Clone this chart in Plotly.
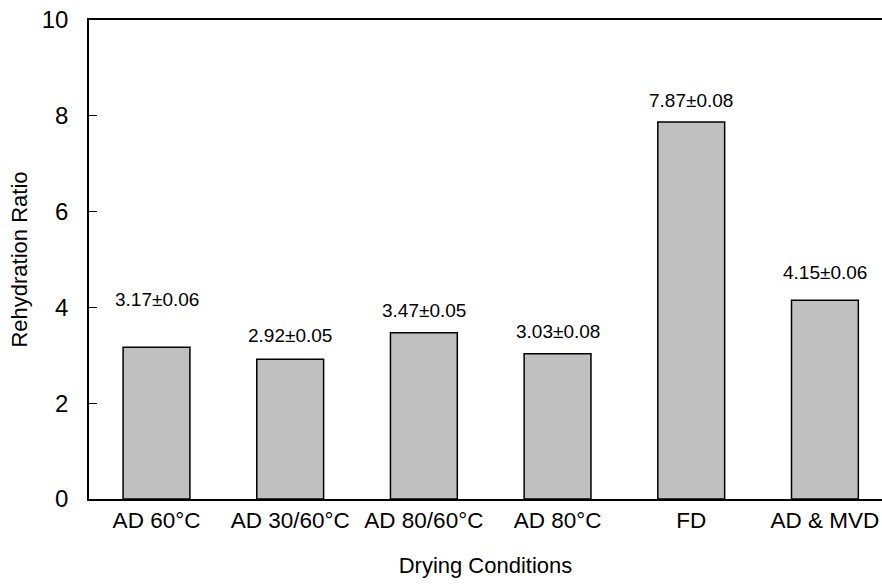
import plotly.graph_objects as go

# Drying treatments and their mean rehydration ratio (± SD)
conditions = ["AD 60°C", "AD 30/60°C", "AD 80/60°C", "AD 80°C", "FD", "AD & MVD"]
ratio_mean = [3.17, 2.92, 3.47, 3.03, 7.87, 4.15]
ratio_sd = [0.06, 0.05, 0.05, 0.08, 0.08, 0.06]
y_ticks = [0, 2, 4, 6, 8, 10]

# vertical gap (px) between bar top and the centre of its value label
label_gap = [48, 24, 22, 22, 22, 28]

FONT = "Liberation Sans, Arial, sans-serif"

fig = go.Figure()
fig.add_trace(go.Bar(
    x=list(range(len(conditions))),
    y=ratio_mean,
    width=0.5,
    marker=dict(color="#c0c0c0", line=dict(color="black", width=1.5)),
    showlegend=False,
    hoverinfo="skip",
))

for i, (m, s) in enumerate(zip(ratio_mean, ratio_sd)):
    fig.add_annotation(
        x=i, y=m, xref="x", yref="y",
        text=f"{m:.2f}±{s:.2f}",
        showarrow=False, yanchor="middle", yshift=label_gap[i],
        font=dict(family=FONT, size=19, color="black"),
    )

fig.update_layout(
    width=882, height=584,
    margin=dict(l=89, r=0, t=20, b=85),
    paper_bgcolor="white", plot_bgcolor="white",
    font=dict(family=FONT, size=22, color="black"),
    bargap=0.5,
)

fig.update_xaxes(
    tickmode="array",
    tickvals=list(range(len(conditions))),
    ticktext=conditions,
    range=[-0.505, 5.427],
    showline=True, linecolor="black", linewidth=1.5, mirror=True,
    ticks="", showgrid=False, zeroline=False,
    tickfont=dict(family=FONT, size=22.5),
    title=dict(text="Drying Conditions", font=dict(family=FONT, size=22), standoff=26),
)

fig.update_yaxes(
    range=[0, 10],
    tickmode="array", tickvals=y_ticks,
    showline=True, linecolor="black", linewidth=1.5, mirror=False,
    ticks="inside", ticklen=8, tickwidth=1, tickcolor="black",
    showgrid=False, zeroline=False,
    tickfont=dict(family=FONT, size=24),
    ticklabelstandoff=14,
    title=dict(text="Rehydration Ratio", font=dict(family=FONT, size=22), standoff=8),
)

fig.write_html("out.html")
